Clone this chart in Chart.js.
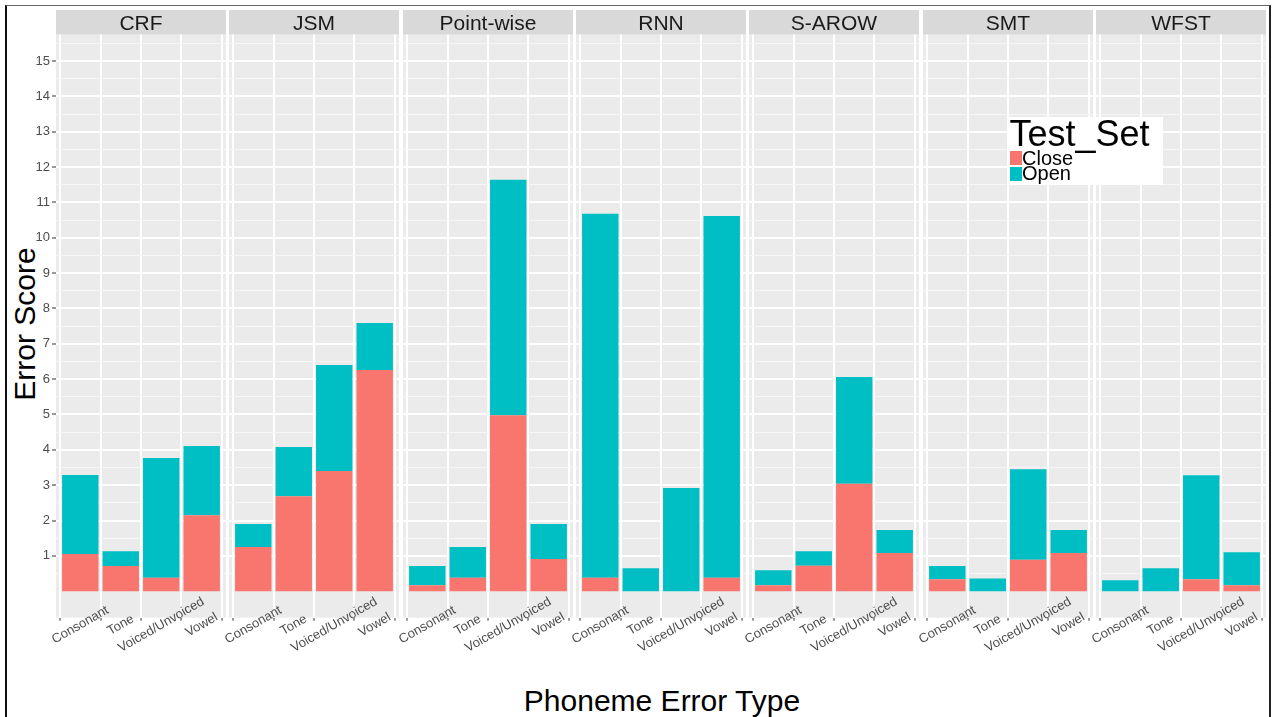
<!DOCTYPE html>
<html>
<head>
<meta charset="utf-8">
<script src="https://cdn.jsdelivr.net/npm/chart.js@4.4.0/dist/chart.umd.min.js"></script>
<style>
  body {
    margin: 0;
    width: 1274px;
    height: 717px;
    overflow: hidden;
    position: relative;
    background: #ffffff;
    font-family: "Liberation Sans", Arial, sans-serif;
  }
  canvas { position: absolute; top: 10px; }
  #moldura {
    position: absolute; left: 5px; top: 5px; width: 1266px; height: 760px;
    box-sizing: border-box;
    border-left: 2px solid #111; border-top: 1px solid #666; border-right: 2px solid #222;
  }
  #tituloX {
    position: absolute; left: 362px; top: 685.6px; width: 600px;
    text-align: center; font-size: 30px; line-height: 30px; color: #000;
  }
  #tituloY {
    position: absolute; left: -125.4px; top: 306px; width: 300px; height: 36px;
    text-align: center; font-size: 30px; line-height: 36px; color: #000;
    transform: rotate(-90deg);
  }
  #legenda {
    position: absolute; left: 1007px; top: 117px; width: 156px; height: 68px;
    background: #fff; z-index: 10;
  }
  #legenda div { position: absolute; white-space: nowrap; color: #000; }
  .leg-titulo { left: 2.5px; top: -0.8px; font-size: 36px; line-height: 36px; }
  .leg-texto { left: 15px; font-size: 20px; line-height: 20px; }
  .leg-chave { left: 3px; width: 11.7px; height: 14.3px; }
</style>
</head>
<body>
<div id="moldura"></div>
<div id="tituloY">Error Score</div>
<div id="tituloX">Phoneme Error Type</div>
<div id="legenda"></div>

<script>
// categorias do eixo x e paineis (facetas)
const categorias = ["Consonant", "Tone", "Voiced/Unvoiced", "Vowel"];
const modelos = ["CRF", "JSM", "Point-wise", "RNN", "S-AROW", "SMT", "WFST"];
const series = ["Close", "Open"];
const ticksY = [1, 2, 3, 4, 5, 6, 7, 8, 9, 10, 11, 12, 13, 14, 15];

// Test_Set = Close (parte de baixo da barra)
const closeCRF = [1.05, 0.71, 0.38, 2.15];
const closeJSM = [1.25, 2.69, 3.40, 6.26];
const closePointwise = [0.17, 0.38, 4.98, 0.91];
const closeRNN = [0.38, 0, 0, 0.38];
const closeSAROW = [0.17, 0.72, 3.04, 1.08];
const closeSMT = [0.34, 0, 0.89, 1.08];
const closeWFST = [0, 0, 0.34, 0.17];

// Test_Set = Open (empilhado em cima)
const openCRF = [2.24, 0.42, 3.39, 1.96];
const openJSM = [0.65, 1.39, 3.00, 1.33];
const openPointwise = [0.54, 0.87, 6.66, 0.99];
const openRNN = [10.30, 0.65, 2.92, 10.24];
const openSAROW = [0.42, 0.41, 3.02, 0.65];
const openSMT = [0.37, 0.36, 2.56, 0.65];
const openWFST = [0.31, 0.65, 2.94, 0.93];

const valoresClose = [closeCRF, closeJSM, closePointwise, closeRNN, closeSAROW, closeSMT, closeWFST];
const valoresOpen = [openCRF, openJSM, openPointwise, openRNN, openSAROW, openSMT, openWFST];

const cores = ["#F8766D", "#00BFC4"];
const FONTE = '"Liberation Sans", Arial, sans-serif';
const ALTURA_FAIXA = 24.6;

Chart.defaults.font.family = FONTE;

// linhas de grade: principais nos inteiros, secundarias nos meios
const marcasY = [0.5];
ticksY.forEach((t) => marcasY.push(t, t + 0.5));

// fundo cinza do painel + faixa com o nome do modelo + rotulos do eixo x
const painelPlugin = {
  id: "painel",
  beforeDraw(chart, args, opts) {
    const ctx = chart.ctx;
    const a = chart.chartArea;
    ctx.save();
    ctx.fillStyle = "#EBEBEB";
    ctx.fillRect(a.left, a.top, a.right - a.left, a.bottom - a.top);
    ctx.fillStyle = "#D9D9D9";
    ctx.fillRect(a.left, a.top - ALTURA_FAIXA, a.right - a.left, ALTURA_FAIXA);
    ctx.fillStyle = "#1A1A1A";
    ctx.font = "21px " + FONTE;
    ctx.textAlign = "center";
    ctx.textBaseline = "alphabetic";
    ctx.fillText(opts.titulo, (a.left + a.right) / 2, a.top - 4.6);
    ctx.restore();
  },
  afterDraw(chart) {
    const ctx = chart.ctx;
    const a = chart.chartArea;
    ctx.save();
    ctx.fillStyle = "#4D4D4D";
    ctx.font = "13px " + FONTE;
    ctx.textAlign = "center";
    ctx.textBaseline = "middle";
    for (let j = 0; j < categorias.length; j++) {
      const x = chart.scales.x.getPixelForValue(j + 1);
      ctx.save();
      ctx.translate(x, a.bottom + 7.3);
      ctx.rotate(-Math.PI / 6);
      ctx.fillText(categorias[j], 0, 0);
      ctx.restore();
    }
    ctx.restore();
  },
};

function ehInteiro(c) {
  return c.tick && Number.isInteger(c.tick.value);
}

for (let i = 0; i < modelos.length; i++) {
  const canvas = document.createElement("canvas");
  canvas.width = 240;
  canvas.height = 707;
  canvas.style.left = Math.round(56 + i * 173.3 - 60) + "px";
  document.body.appendChild(canvas);

  const dados = {
    datasets: [
      {
        label: series[0],
        data: valoresClose[i].map((v, j) => ({ x: j + 1, y: v })),
        backgroundColor: cores[0],
        barPercentage: 0.9,
        categoryPercentage: 1,
      },
      {
        label: series[1],
        data: valoresOpen[i].map((v, j) => ({ x: j + 1, y: v })),
        backgroundColor: cores[1],
        barPercentage: 0.9,
        categoryPercentage: 1,
      },
    ],
  };

  const config = {
    type: "bar",
    data: dados,
    plugins: [painelPlugin],
    options: {
      responsive: false,
      animation: false,
      layout: { padding: { top: ALTURA_FAIXA, right: 10, left: 0, bottom: 0 } },
      plugins: {
        legend: { display: false },
        tooltip: { enabled: false },
        painel: { titulo: modelos[i] },
      },
      scales: {
        x: {
          type: "linear",
          stacked: true,
          min: 0.4,
          max: 4.6,
          offset: false,
          afterBuildTicks: (s) => {
            s.ticks = [1, 2, 3, 4].map((v) => ({ value: v }));
          },
          afterFit: (s) => {
            s.height = 99.3;
          },
          border: { display: false },
          grid: { color: "#FFFFFF", lineWidth: 2, tickLength: 3, tickWidth: 1, tickColor: "#333333" },
          ticks: { callback: () => "", maxRotation: 0, autoSkip: false },
        },
        y: {
          type: "linear",
          stacked: true,
          min: -0.75,
          max: 15.75,
          afterBuildTicks: (s) => {
            s.ticks = marcasY.map((v) => ({ value: v }));
          },
          afterFit: (s) => {
            s.width = 60;
          },
          border: { display: false },
          grid: {
            color: (c) => (ehInteiro(c) ? "#FFFFFF" : "#F6F6F6"),
            lineWidth: (c) => (ehInteiro(c) ? 2 : 1),
            drawTicks: i === 0,
            tickLength: 4,
            tickWidth: 1,
            tickColor: (c) => (ehInteiro(c) ? "#333333" : "rgba(0,0,0,0)"),
          },
          ticks: {
            display: i === 0,
            autoSkip: false,
            padding: 2,
            color: "#4D4D4D",
            font: { size: 13 },
            callback: (v) => (Number.isInteger(v) ? v : ""),
          },
        },
      },
    },
  };

  new Chart(canvas, config);
}

// legenda (Test_Set) por cima dos paineis
const legenda = document.getElementById("legenda");
legenda.innerHTML = '<div class="leg-titulo">Test_Set</div>';
for (let k = 0; k < series.length; k++) {
  legenda.innerHTML +=
    '<div class="leg-chave" style="top:' + (33.7 + k * 16.3) + 'px;background:' + cores[k] + '"></div>' +
    '<div class="leg-texto" style="top:' + (31.1 + k * 15) + 'px">' + series[k] + "</div>";
}
</script>
</body>
</html>
